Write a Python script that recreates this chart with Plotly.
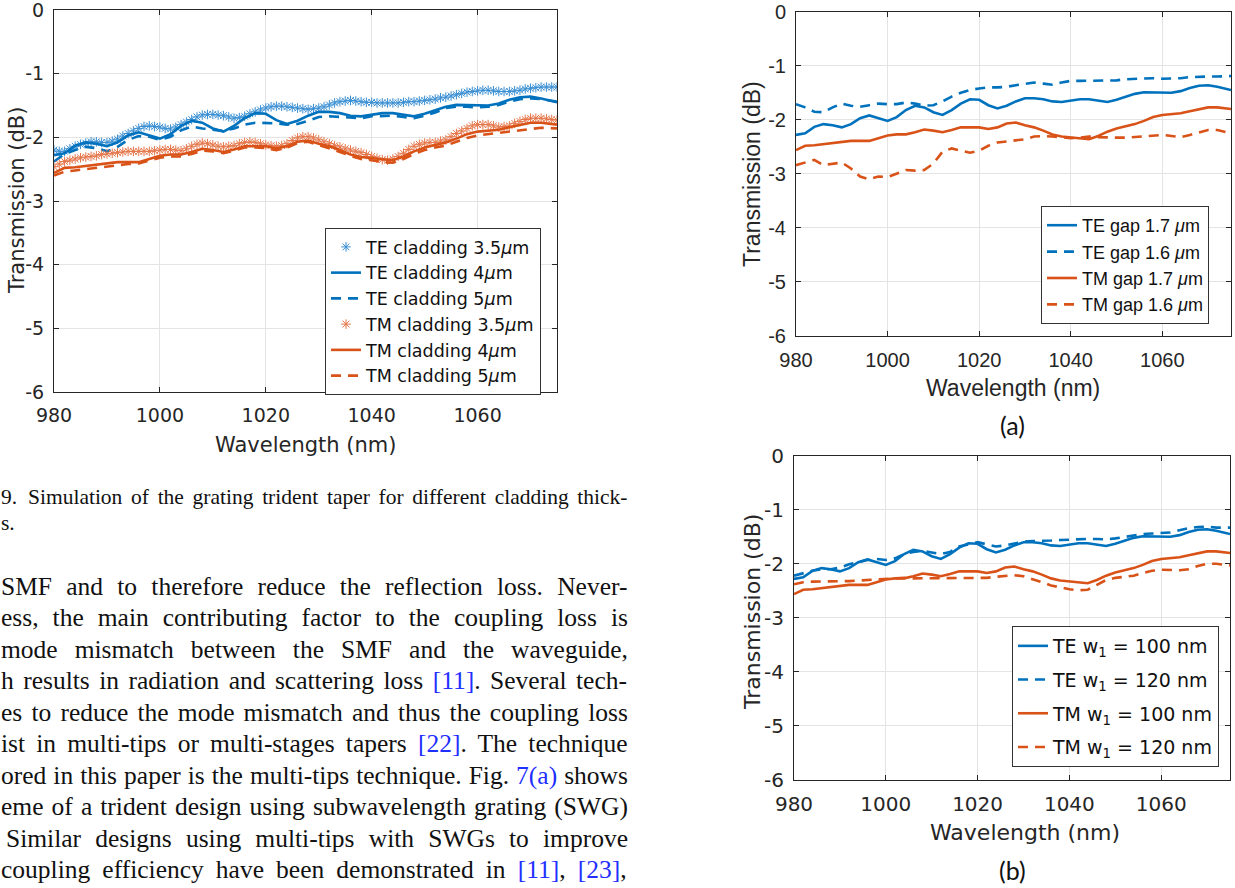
import plotly.graph_objects as go

# ---------------- data ----------------
wl_2nm = list(range(980, 1073, 2)) + [1075]
wl_1nm = list(range(980, 1076))

x_tick_vals = [980, 1000, 1020, 1040, 1060]
x_tick_text = ["980", "1000", "1020", "1040", "1060"]
y_tick_vals = [0, -1, -2, -3, -4, -5, -6]
y_tick_text = ["0", "-1", "-2", "-3", "-4", "-5", "-6"]

# baseline design (TE cladding 4um / TE gap 1.7um / TE w1=100nm)
te_base = [-2.28, -2.25, -2.13, -2.08, -2.10, -2.14, -2.08, -1.97, -1.92, -1.97,
           -2.02, -1.95, -1.82, -1.74, -1.77, -1.86, -1.91, -1.82, -1.70, -1.62,
           -1.63, -1.73, -1.79, -1.74, -1.66, -1.60, -1.60, -1.62, -1.66, -1.67,
           -1.65, -1.62, -1.62, -1.65, -1.67, -1.63, -1.57, -1.52, -1.49, -1.49,
           -1.50, -1.50, -1.47, -1.41, -1.37, -1.36, -1.39, -1.45]
tm_base = [-2.56, -2.48, -2.47, -2.45, -2.42, -2.40, -2.39, -2.39, -2.39, -2.34,
           -2.29, -2.27, -2.27, -2.23, -2.18, -2.20, -2.23, -2.19, -2.14, -2.14,
           -2.14, -2.17, -2.14, -2.07, -2.05, -2.10, -2.14, -2.20, -2.27, -2.31,
           -2.33, -2.35, -2.36, -2.30, -2.22, -2.16, -2.12, -2.08, -2.02, -1.95,
           -1.91, -1.90, -1.88, -1.84, -1.80, -1.77, -1.77, -1.80]

# cladding study
te_clad35 = [-2.20, -2.22, -2.22, -2.18, -2.14, -2.11, -2.09, -2.07, -2.07, -2.08,
             -2.08, -2.06, -2.03, -1.98, -1.94, -1.90, -1.86, -1.83, -1.82, -1.83,
             -1.84, -1.86, -1.87, -1.84, -1.80, -1.76, -1.72, -1.68, -1.65, -1.64,
             -1.64, -1.65, -1.66, -1.68, -1.70, -1.69, -1.67, -1.63, -1.60, -1.57,
             -1.54, -1.52, -1.51, -1.51, -1.52, -1.53, -1.54, -1.55, -1.56, -1.55,
             -1.54, -1.52, -1.49, -1.46, -1.44, -1.43, -1.42, -1.43, -1.44, -1.45,
             -1.45, -1.46, -1.46, -1.46, -1.46, -1.46, -1.45, -1.44, -1.44, -1.43,
             -1.42, -1.41, -1.40, -1.38, -1.37, -1.35, -1.33, -1.31, -1.29, -1.28,
             -1.27, -1.26, -1.26, -1.27, -1.28, -1.28, -1.28, -1.27, -1.26, -1.24,
             -1.23, -1.22, -1.21, -1.21, -1.21, -1.21]
tm_clad35 = [-2.46, -2.42, -2.38, -2.36, -2.34, -2.32, -2.31, -2.30, -2.29, -2.27,
             -2.26, -2.25, -2.24, -2.23, -2.22, -2.22, -2.22, -2.22, -2.22, -2.21,
             -2.20, -2.19, -2.19, -2.20, -2.21, -2.18, -2.14, -2.11, -2.09, -2.10,
             -2.12, -2.14, -2.15, -2.14, -2.13, -2.10, -2.08, -2.07, -2.08, -2.10,
             -2.12, -2.13, -2.14, -2.13, -2.10, -2.05, -2.01, -1.99, -1.99, -2.01,
             -2.04, -2.07, -2.10, -2.13, -2.15, -2.18, -2.20, -2.22, -2.24, -2.27,
             -2.30, -2.33, -2.35, -2.36, -2.34, -2.30, -2.25, -2.19, -2.14, -2.11,
             -2.09, -2.08, -2.08, -2.06, -2.04, -1.99, -1.94, -1.90, -1.86, -1.82,
             -1.80, -1.80, -1.80, -1.82, -1.84, -1.83, -1.82, -1.78, -1.75, -1.72,
             -1.70, -1.70, -1.70, -1.71, -1.72, -1.73]
te_clad5 = [-2.38, -2.26, -2.20, -2.15, -2.17, -2.22, -2.15, -2.04, -1.98, -1.99,
            -2.04, -1.99, -1.89, -1.83, -1.86, -1.88, -1.90, -1.86, -1.80, -1.77,
            -1.77, -1.78, -1.80, -1.79, -1.74, -1.68, -1.67, -1.68, -1.70, -1.70,
            -1.67, -1.66, -1.66, -1.68, -1.70, -1.66, -1.61, -1.54, -1.52, -1.52,
            -1.53, -1.52, -1.49, -1.44, -1.40, -1.39, -1.40, -1.44]
tm_clad5 = [-2.60, -2.54, -2.52, -2.50, -2.47, -2.45, -2.43, -2.42, -2.41, -2.37,
            -2.32, -2.30, -2.30, -2.26, -2.21, -2.22, -2.25, -2.21, -2.16, -2.16,
            -2.17, -2.20, -2.16, -2.09, -2.07, -2.12, -2.17, -2.23, -2.29, -2.34,
            -2.36, -2.39, -2.40, -2.34, -2.26, -2.20, -2.16, -2.13, -2.07, -2.01,
            -1.97, -1.95, -1.93, -1.91, -1.88, -1.86, -1.85, -1.86]

# gap study (a)
te_gap16 = [-1.71, -1.77, -1.85, -1.86, -1.77, -1.70, -1.74, -1.76, -1.73, -1.70,
            -1.71, -1.71, -1.68, -1.70, -1.74, -1.73, -1.66, -1.57, -1.50, -1.45,
            -1.42, -1.40, -1.40, -1.39, -1.36, -1.33, -1.31, -1.33, -1.35, -1.31,
            -1.28, -1.28, -1.28, -1.28, -1.28, -1.27, -1.25, -1.24, -1.23, -1.23,
            -1.24, -1.24, -1.23, -1.21, -1.20, -1.20, -1.20, -1.19]
tm_gap16 = [-2.84, -2.79, -2.74, -2.84, -2.82, -2.79, -2.90, -3.05, -3.10, -3.05,
            -3.06, -2.99, -2.93, -2.94, -2.93, -2.81, -2.59, -2.53, -2.57, -2.61,
            -2.57, -2.48, -2.42, -2.40, -2.39, -2.36, -2.31, -2.30, -2.31, -2.33,
            -2.34, -2.33, -2.31, -2.32, -2.33, -2.33, -2.33, -2.32, -2.30, -2.29,
            -2.28, -2.30, -2.32, -2.28, -2.23, -2.19, -2.19, -2.25]

# w1 study (b)
te_w120 = [-2.22, -2.17, -2.13, -2.10, -2.10, -2.07, -2.01, -1.97, -1.93, -1.91,
           -1.93, -1.90, -1.82, -1.78, -1.76, -1.79, -1.82, -1.78, -1.68, -1.64,
           -1.60, -1.64, -1.68, -1.66, -1.63, -1.59, -1.58, -1.58, -1.57, -1.56,
           -1.55, -1.54, -1.54, -1.54, -1.55, -1.53, -1.50, -1.47, -1.45, -1.44,
           -1.43, -1.42, -1.38, -1.34, -1.32, -1.31, -1.33, -1.33]
tm_w120 = [-2.38, -2.34, -2.33, -2.33, -2.33, -2.33, -2.32, -2.31, -2.30, -2.30,
           -2.28, -2.27, -2.26, -2.27, -2.27, -2.26, -2.26, -2.26, -2.26, -2.27,
           -2.27, -2.26, -2.24, -2.22, -2.21, -2.23, -2.28, -2.34, -2.40, -2.44,
           -2.47, -2.49, -2.48, -2.39, -2.30, -2.26, -2.24, -2.22, -2.17, -2.13,
           -2.11, -2.11, -2.12, -2.10, -2.04, -2.00, -2.00, -2.03]

caption_num = "9."
caption_line1 = "Simulation of the grating trident taper for different cladding thick-"
caption_line2 = "s."
# each paragraph line: list of (text, is_reference_link)
paragraph_lines = [
    [("SMF and to therefore reduce the reflection loss. Never-", False)],
    [("ess, the main contributing factor to the coupling loss is", False)],
    [("mode mismatch between the SMF and the waveguide,", False)],
    [("h results in radiation and scattering loss ", False), ("[11]", True), (". Several tech-", False)],
    [("es to reduce the mode mismatch and thus the coupling loss", False)],
    [("ist in multi-tips or multi-stages tapers ", False), ("[22]", True), (". The technique", False)],
    [("ored in this paper is the multi-tips technique. Fig. ", False), ("7(a)", True), (" shows", False)],
    [("eme of a trident design using subwavelength grating (SWG)", False)],
    [("Similar designs using multi-tips with SWGs to improve", False)],
    [("coupling efficiency have been demonstrated in ", False), ("[11]", True), (", ", False), ("[23]", True), (",", False)],
]

# ---------------- styling ----------------
W, H = 1235, 888
BLUE, ORANGE = "#0072BD", "#D95319"
BLUE_STAR, ORANGE_STAR = "#3a8fd3", "#e5764a"
LINK = "#1f2fff"
AXC = "#262626"
DASH = "10px,7px"
LW = 2.6

ARIAL = "Liberation Sans, Arial, sans-serif"
DEJAVU = "DejaVu Sans, sans-serif"
SERIF = "Liberation Serif, Times New Roman, serif"

# Times-Roman advance widths (1/1000 em) used to justify the text column
_TW = dict(zip("abcdefghijklmnopqrstuvwxyz",
               [444, 500, 444, 500, 444, 333, 500, 500, 278, 278, 500, 278, 778,
                500, 500, 500, 500, 333, 389, 278, 500, 500, 722, 500, 500, 444]))
_TW.update(dict(zip("ABCDEFGHIJKLMNOPQRSTUVWXYZ",
                    [722, 667, 667, 722, 611, 556, 722, 722, 333, 389, 722, 611, 889,
                     722, 722, 556, 722, 667, 556, 611, 722, 722, 944, 722, 722, 611])))
_TW.update({c: 500 for c in "0123456789"})
_TW.update({" ": 250, ".": 250, ",": 250, "-": 333, "(": 333, ")": 333, "[": 333, "]": 333})


def px_x(p):
    return p / W


def px_y(p):
    return 1 - p / H


fig = go.Figure()


def line(x, y, name, color, dash, xa, ya, legend):
    fig.add_trace(go.Scatter(x=x, y=y, name=name, mode="lines", xaxis=xa, yaxis=ya,
                             line=dict(color=color, width=LW, dash=dash),
                             legend=legend, legendgroup=name + legend))


def stars(x, y, name, color, xa, ya, legend):
    fig.add_trace(go.Scatter(x=x, y=y, name=name, mode="markers", xaxis=xa, yaxis=ya,
                             marker=dict(symbol="asterisk-open", size=8, color=color,
                                         line=dict(width=1, color=color)),
                             legend=legend, legendgroup=name + legend))


# left figure: cladding
stars(wl_1nm, te_clad35, "TE cladding 3.5<i>μ</i>m", BLUE_STAR, "x", "y", "legend")
line(wl_2nm, te_base, "TE cladding 4<i>μ</i>m", BLUE, "solid", "x", "y", "legend")
line(wl_2nm, te_clad5, "TE cladding 5<i>μ</i>m", BLUE, DASH, "x", "y", "legend")
stars(wl_1nm, tm_clad35, "TM cladding 3.5<i>μ</i>m", ORANGE_STAR, "x", "y", "legend")
line(wl_2nm, tm_base, "TM cladding 4<i>μ</i>m", ORANGE, "solid", "x", "y", "legend")
line(wl_2nm, tm_clad5, "TM cladding 5<i>μ</i>m", ORANGE, DASH, "x", "y", "legend")

# (a) gap
line(wl_2nm, te_base, "TE gap 1.7 <i>μ</i>m", BLUE, "solid", "x2", "y2", "legend2")
line(wl_2nm, te_gap16, "TE gap 1.6 <i>μ</i>m", BLUE, DASH, "x2", "y2", "legend2")
line(wl_2nm, tm_base, "TM gap 1.7 <i>μ</i>m", ORANGE, "solid", "x2", "y2", "legend2")
line(wl_2nm, tm_gap16, "TM gap 1.6 <i>μ</i>m", ORANGE, DASH, "x2", "y2", "legend2")

# (b) w1
line(wl_2nm, te_base, "TE w<sub>1</sub> = 100 nm", BLUE, "solid", "x3", "y3", "legend3")
line(wl_2nm, te_w120, "TE w<sub>1</sub> = 120 nm", BLUE, DASH, "x3", "y3", "legend3")
line(wl_2nm, tm_base, "TM w<sub>1</sub> = 100 nm", ORANGE, "solid", "x3", "y3", "legend3")
line(wl_2nm, tm_w120, "TM w<sub>1</sub> = 120 nm", ORANGE, DASH, "x3", "y3", "legend3")


def xax(domain, anchor, family, size):
    return dict(domain=domain, anchor=anchor, range=[980, 1075], tickvals=x_tick_vals,
                ticktext=x_tick_text, ticks="inside", ticklen=5, tickcolor=AXC,
                showline=True, linecolor=AXC, linewidth=1, mirror="ticks",
                showgrid=True, gridcolor="#e4e4e4", gridwidth=1, zeroline=False,
                tickfont=dict(family=family, size=size, color=AXC), ticklabelstandoff=6,
                ticklabeloverflow="allow", automargin=False)


def yax(domain, anchor, family, size):
    return dict(domain=domain, anchor=anchor, range=[-6, 0], tickvals=y_tick_vals,
                ticktext=y_tick_text, ticks="inside", ticklen=5, tickcolor=AXC,
                showline=True, linecolor=AXC, linewidth=1, mirror="ticks",
                showgrid=True, gridcolor="#e4e4e4", gridwidth=1, zeroline=False,
                tickfont=dict(family=family, size=size, color=AXC), ticklabelstandoff=5,
                ticklabeloverflow="allow", automargin=False)


ann = []


def text(x, y, s, size, family, xanchor="center", angle=0, color=AXC):
    ann.append(dict(x=px_x(x), y=px_y(y), xref="paper", yref="paper", text=s,
                    showarrow=False, xanchor=xanchor, yanchor="middle", textangle=angle,
                    borderpad=0, font=dict(family=family, size=size, color=color)))


def justified(segments, size, x0, x1, y):
    raw = "".join(t for t, _ in segments)
    natural = sum(_TW.get(c, 500) for c in raw) * size / 1000.0
    n_sp = raw.count(" ")
    ws = (x1 - x0 - natural) / n_sp if n_sp else 0
    parts = []
    for t, is_link in segments:
        st = "word-spacing:%.2fpx" % ws
        if is_link:
            st += ";color:" + LINK
        parts.append("<span style='%s'>%s</span>" % (st, t))
    text(x0, y, "".join(parts), size, SERIF, xanchor="left", color="#111")


# axis titles
text(305, 445, "Wavelength (nm)", 21, DEJAVU)
text(17, 201, "Transmission (dB)", 21, DEJAVU, angle=-90)
text(1013, 388, "Wavelength (nm)", 23, ARIAL)
text(752, 174, "Transmission (dB)", 23, ARIAL, angle=-90)
text(1025, 832, "Wavelength (nm)", 22, DEJAVU)
text(752, 612, "Transmission (dB)", 22, DEJAVU, angle=-90)
text(1012, 425, "(a)", 25, "Lato, sans-serif", color="#111")
text(1012, 870, "(b)", 25, "Lato, sans-serif", color="#111")

# body text (justified column, right edge at x = 627 px)
COL_R = 627
text(0, 497, caption_num, 21.5, SERIF, xanchor="left", color="#111")
justified([(caption_line1, False)], 21.5, 27, COL_R, 497)
text(0, 523, caption_line2, 21.5, SERIF, xanchor="left", color="#111")
for i, segs in enumerate(paragraph_lines):
    x0 = 5 if segs[0][0].startswith("Similar") else 0
    justified(segs, 25.5, x0, COL_R, 586 + 31.5 * i)

legend_common = dict(xanchor="right", yanchor="top", bgcolor="white",
                     bordercolor="#333", borderwidth=1, traceorder="grouped")

fig.update_layout(
    width=W, height=H, margin=dict(l=0, r=0, t=0, b=0, autoexpand=False),
    paper_bgcolor="white", plot_bgcolor="white",
    xaxis=xax([px_x(54), px_x(557)], "y", DEJAVU, 19),
    yaxis=yax([px_y(392), px_y(10)], "x", DEJAVU, 19),
    xaxis2=xax([px_x(796), px_x(1231)], "y2", ARIAL, 20),
    yaxis2=yax([px_y(336), px_y(11.7)], "x2", ARIAL, 20),
    xaxis3=xax([px_x(794), px_x(1230)], "y3", DEJAVU, 20),
    yaxis3=yax([px_y(780), px_y(455.7)], "x3", DEJAVU, 20),
    legend=dict(x=px_x(541), y=px_y(228), font=dict(family=DEJAVU, size=17.5, color="#111"),
                tracegroupgap=0, **legend_common),
    legend2=dict(x=px_x(1209), y=px_y(206), font=dict(family=ARIAL, size=18, color="#111"),
                 tracegroupgap=0, **legend_common),
    legend3=dict(x=px_x(1219), y=px_y(626), font=dict(family=DEJAVU, size=19, color="#111"),
                 tracegroupgap=6, **legend_common),
    annotations=ann,
    showlegend=True,
)

fig.write_html("out.html")
